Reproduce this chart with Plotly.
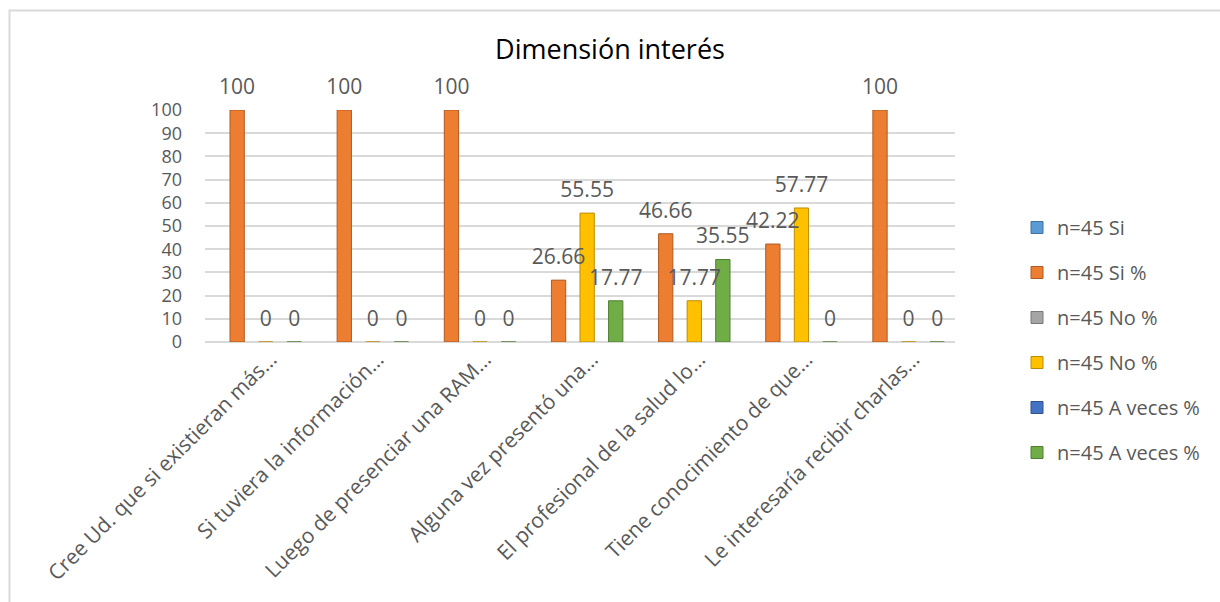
import plotly.graph_objects as go

categories = [
    "Cree Ud. que si existieran más…",
    "Si tuviera la información…",
    "Luego de presenciar una RAM…",
    "Alguna vez presentó una…",
    "El profesional de la salud lo…",
    "Tiene conocimiento de que…",
    "Le interesaría recibir charlas…",
]
series_names = ["n=45 Si", "n=45 Si %", "n=45 No %", "n=45 No %", "n=45 A veces %", "n=45 A veces %"]
si_n = [None] * 7
si_pct = [100, 100, 100, 26.66, 46.66, 42.22, 100]
no_gray = [None] * 7
no_pct = [0, 0, 0, 55.55, 17.77, 57.77, 0]
aveces_blue = [None] * 7
aveces_pct = [0, 0, 0, 17.77, 35.55, 0, 0]
y_ticks = list(range(0, 101, 10))

series_values = [si_n, si_pct, no_gray, no_pct, aveces_blue, aveces_pct]
colors = ["#5B9BD5", "#ED7D31", "#A5A5A5", "#FFC000", "#4472C4", "#70AD47"]
edge = ["#41719C", "#AE5A21", "#787878", "#BC8C00", "#2F528F", "#507E32"]

FONT = "Open Sans"
TXT = "#595959"

fig = go.Figure()
for i, (name, vals) in enumerate(zip(series_names, series_values)):
    fig.add_trace(go.Bar(
        x=categories, y=vals, name=name,
        marker=dict(color=colors[i], line=dict(color=edge[i], width=1)),
        offsetgroup=str(i), alignmentgroup="a",
        legendgroup=f"g{i}", hoverinfo="skip", cliponaxis=False,
    ))
# data labels, grouped like the bars
for i, (name, vals) in enumerate(zip(series_names, series_values)):
    if all(v is None for v in vals):
        continue
    labels = [("" if v is None else f"{v:g}") for v in vals]
    fig.add_trace(go.Scatter(
        x=categories, y=vals, mode="markers+text", text=labels,
        textposition="top center", offsetgroup=str(i), alignmentgroup="a",
        marker=dict(size=16, opacity=0, color=colors[i]),
        textfont=dict(family=FONT, size=21, color=TXT),
        showlegend=False, hoverinfo="skip", cliponaxis=False,
    ))

fig.update_layout(
    width=1220, height=602,
    margin=dict(l=205, r=265, t=110, b=260),
    paper_bgcolor="white", plot_bgcolor="white",
    barmode="group", bargap=0.2, bargroupgap=0,
    scattermode="group", scattergap=0.2,
    font=dict(family=FONT, color=TXT),
    title=dict(text="Dimensión interés", x=0.5, xref="container", y=1 - 50 / 602, yanchor="middle",
               font=dict(family=FONT, size=27, color="#000000")),
    xaxis=dict(tickangle=-45, tickfont=dict(family=FONT, size=21, color=TXT),
               showline=False, ticks="", showgrid=False, ticklabelshift=12),
    yaxis=dict(range=[0, 100], tickvals=y_ticks, tickfont=dict(family=FONT, size=18, color=TXT),
               showgrid=True, gridcolor="#D9D9D9", gridwidth=2, zeroline=True,
               zerolinecolor="#D9D9D9", zerolinewidth=2, showline=False, ticks="",
               ticklabelstandoff=22),
    legend=dict(x=(1017 - 205) / 750, y=(342 - 208) / 232, xanchor="left", yanchor="top",
                font=dict(family=FONT, size=20, color=TXT), tracegroupgap=16,
                bgcolor="rgba(0,0,0,0)", maxheight=500),
    shapes=[dict(type="rect", xref="paper", yref="paper",
                 x0=(9.5 - 205) / 750, x1=1.5, y0=-1.5, y1=1 + (110 - 10.5) / 232,
                 line=dict(color="#D9D9D9", width=2), fillcolor="rgba(0,0,0,0)", layer="below")],
)

fig.write_html("out.html")
